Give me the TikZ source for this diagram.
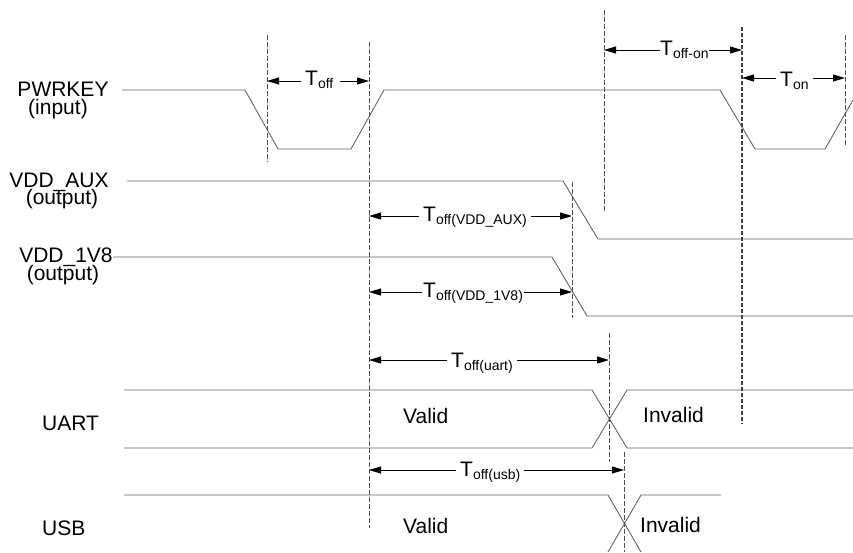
\documentclass[tikz,border=0pt]{standalone}
\usepackage{fontspec}
\setmainfont{Liberation Sans}
\usetikzlibrary{arrows.meta}
\newcommand\tsub[1]{\raisebox{-3pt}{\fontsize{14}{14}\selectfont #1}}
\definecolor{sig}{RGB}{100,100,100}
\definecolor{dsh}{RGB}{80,80,80}
\tikzset{
  sigline/.style={draw=sig, line width=0.9pt},
  dline/.style={draw=dsh, line width=0.8pt, dash pattern=on 4.5pt off 2.5pt},
  dthick/.style={draw=dsh!80!black, line width=1.6pt, dash pattern=on 4pt off 2pt},
  arr/.style={draw=black, line width=0.8pt, -{Triangle[length=12pt,width=7pt]}},
  lbl/.style={inner sep=0pt, anchor=base, font=\fontsize{21}{24}\selectfont},
  tlbl/.style={inner ysep=0pt, inner xsep=4pt, anchor=base west, font=\fontsize{21}{24}\selectfont},
}
\begin{document}
\begin{tikzpicture}[x=1pt,y=-1pt]
\useasboundingbox (0,0) rectangle (853,552);
\clip (0,0) rectangle (853,552);
% signal names
\node[lbl] (pwr) at (63,96) {PWRKEY};
\node[lbl] (pwrin) at (58,114) {(input)};
\node[lbl] (aux) at (59,187) {VDD\_AUX};
\node[lbl] (auxout) at (62,204) {(output)};
\node[lbl] (v18) at (66,262) {VDD\_1V8};
\node[lbl] (v18out) at (63,280) {(output)};
\node[lbl, anchor=base west] (uart) at (42,430) {UART};
\node[lbl, anchor=base west] (usb) at (42,535) {USB};
% waveforms
\draw[sigline] (122,90) -- (245,90) -- (278,149) -- (351,149) -- (384,90) -- (720,90) -- (755,149) -- (825,149) -- (853,100);
\draw[sigline] (127,181) -- (563,181) -- (598,239) -- (853,239);
\draw[sigline] (113,257) -- (552,257) -- (587,316) -- (853,316);
\draw[sigline] (124,390) -- (592,390) -- (627,448) -- (853,448);
\draw[sigline] (124,448) -- (592,448) -- (627,390) -- (853,390);
\draw[sigline] (124,495) -- (608,495) -- (641,552);
\draw[sigline] (608,552) -- (641,495) -- (721,495);
% state labels
\node[lbl, anchor=base west] (uv) at (403,423) {Valid};
\node[lbl, anchor=base west] (ui) at (643,422) {Invalid};
\node[lbl, anchor=base west] (sv) at (403,533) {Valid};
\node[lbl, anchor=base west] (si) at (640,532) {Invalid};
% dashed reference lines
\coordinate (d1t) at (267,35);  \coordinate (d1b) at (267,162);
\coordinate (d2t) at (369,42);  \coordinate (d2b) at (369,528);
\coordinate (d3t) at (604,10);  \coordinate (d3b) at (604,211);
\coordinate (d4t) at (742,27);  \coordinate (d4b) at (742,424);
\coordinate (d5t) at (845,35);  \coordinate (d5b) at (845,145);
\coordinate (d6t) at (572,182); \coordinate (d6b) at (572,318);
\coordinate (d7t) at (609,333); \coordinate (d7b) at (609,462);
\coordinate (d8t) at (624,452); \coordinate (d8b) at (624,552);
\draw[dline] (d1t) -- (d1b);
\draw[dline] (d2t) -- (d2b);
\draw[dline] (d3t) -- (d3b);
\draw[dthick] (d4t) -- (d4b);
\draw[dline] (d5t) -- (d5b);
\draw[dline] (d6t) -- (d6b);
\draw[dline] (d7t) -- (d7b);
\draw[dline] (d8t) -- (d8b);
% timing arrows
\coordinate (a1l) at (267,81);  \coordinate (a1r) at (369,81);
\node[tlbl] (t1) at (301,85) {T\tsub{off}};
\draw[arr] (t1.west |- a1l) -- (a1l);
\draw[arr] ([xshift=2pt]t1.east |- a1r) -- (a1r);

\coordinate (a2l) at (604,50);  \coordinate (a2r) at (742,50);
\node[tlbl, inner xsep=0pt] (t2) at (660,55) {T\tsub{off-on}};
\draw[arr] (t2.west |- a2l) -- (a2l);
\draw[arr] (t2.east |- a2r) -- (a2r);

\coordinate (a3l) at (742,78);  \coordinate (a3r) at (845,78);
\node[tlbl] (t3) at (776,86) {T\tsub{on}};
\draw[arr] (t3.west |- a3l) -- (a3l);
\draw[arr] (t3.east |- a3r) -- (a3r);

\coordinate (a4l) at (369,216); \coordinate (a4r) at (572,216);
\node[tlbl] (t4) at (419,221) {T\tsub{off(VDD\_AUX)}};
\draw[arr] (t4.west |- a4l) -- (a4l);
\draw[arr] (t4.east |- a4r) -- (a4r);

\coordinate (a5l) at (369,292); \coordinate (a5r) at (572,292);
\node[tlbl, inner xsep=1pt] (t5) at (422,297) {T\tsub{off(VDD\_1V8)}};
\draw[arr] (t5.west |- a5l) -- (a5l);
\draw[arr] (t5.east |- a5r) -- (a5r);

\coordinate (a6l) at (369,360); \coordinate (a6r) at (609,360);
\node[tlbl] (t6) at (447,367) {T\tsub{off(uart)}};
\draw[arr] (t6.west |- a6l) -- (a6l);
\draw[arr] (t6.east |- a6r) -- (a6r);

\coordinate (a7l) at (369,470); \coordinate (a7r) at (624,470);
\node[tlbl] (t7) at (456,476) {T\tsub{off(usb)}};
\draw[arr] (t7.west |- a7l) -- (a7l);
\draw[arr] (t7.east |- a7r) -- (a7r);
\end{tikzpicture}
\end{document}
